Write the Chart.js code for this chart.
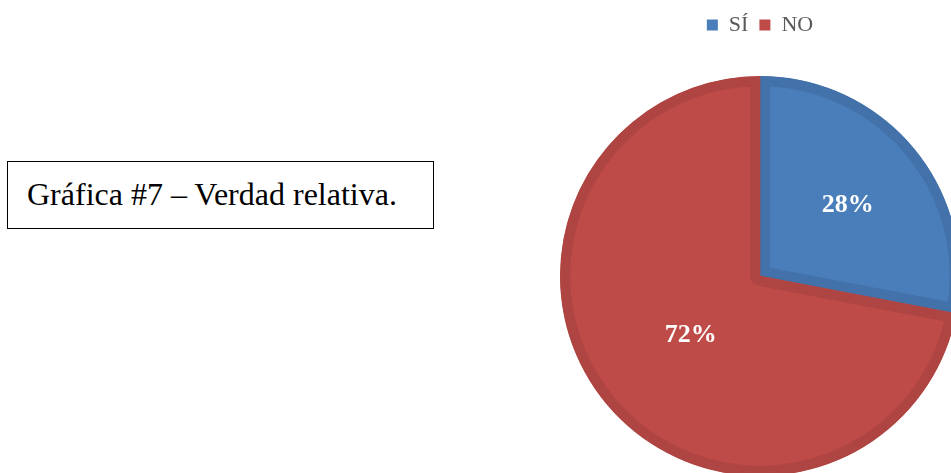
<!DOCTYPE html>
<html>
<head>
<meta charset="utf-8">
<script src="https://cdn.jsdelivr.net/npm/chart.js@4"></script>
<style>
  html, body { margin: 0; padding: 0; width: 951px; height: 473px; overflow: hidden; background: #fff; position: relative; }
  #titleBox { position: absolute; left: 7px; top: 161px; width: 427px; height: 68px; border: 1px solid #000; box-sizing: border-box;
    font-family: "Liberation Serif", serif; font-size: 32px; color: #000; line-height: 64px; padding-left: 19px; white-space: nowrap; }
  #wrap { position: absolute; left: 548px; top: 0; width: 440px; height: 506px; }
</style>
</head>
<body>
<div id="titleBox">Gráfica #7 – Verdad relativa.</div>
<div id="wrap"><canvas id="c" width="440" height="506"></canvas></div>
<script>
const categories = ["SÍ", "NO"];
const values = [28, 72];
const fillColors = ["#4A7EBB", "#BE4B48"];
const borderColors = ["#4371A9", "#AE4542"];
const labelRadiusFactors = [0.57, 0.45];

const pctLabels = {
  id: "pctLabels",
  afterDatasetsDraw(chart) {
    const ctx = chart.ctx;
    const meta = chart.getDatasetMeta(0);
    ctx.save();
    ctx.fillStyle = "#ffffff";
    ctx.font = "bold 26px 'Liberation Serif', serif";
    ctx.textAlign = "center";
    ctx.textBaseline = "middle";
    meta.data.forEach((arc, i) => {
      const p = arc.getProps(["x", "y", "startAngle", "endAngle", "outerRadius"], true);
      const mid = (p.startAngle + p.endAngle) / 2;
      const r = p.outerRadius * labelRadiusFactors[i];
      ctx.fillText(values[i] + "%", p.x + Math.cos(mid) * r, p.y + 2 + Math.sin(mid) * r);
    });
    ctx.restore();
  }
};

new Chart(document.getElementById("c"), {
  type: "pie",
  data: {
    labels: categories,
    datasets: [{
      data: values,
      backgroundColor: fillColors,
      borderColor: borderColors,
      borderWidth: 10,
      borderAlign: "inner",
      radius: 200
    }]
  },
  options: {
    responsive: false,
    animation: false,
    events: [],
    layout: { padding: { top: 3, right: 16, left: 0, bottom: 0 } },
    plugins: {
      tooltip: { enabled: false },
      legend: {
        position: "top",
        labels: {
          boxWidth: 11,
          boxHeight: 11,
          padding: 11,
          color: "#595959",
          font: { family: "'Liberation Serif', serif", size: 22 },
          generateLabels(chart) {
            const items = Chart.overrides.pie.plugins.legend.labels.generateLabels(chart);
            items.forEach(it => { it.lineWidth = 0; it.strokeStyle = it.fillStyle; });
            return items;
          }
        }
      }
    }
  },
  plugins: [pctLabels]
});
</script>
</body>
</html>
